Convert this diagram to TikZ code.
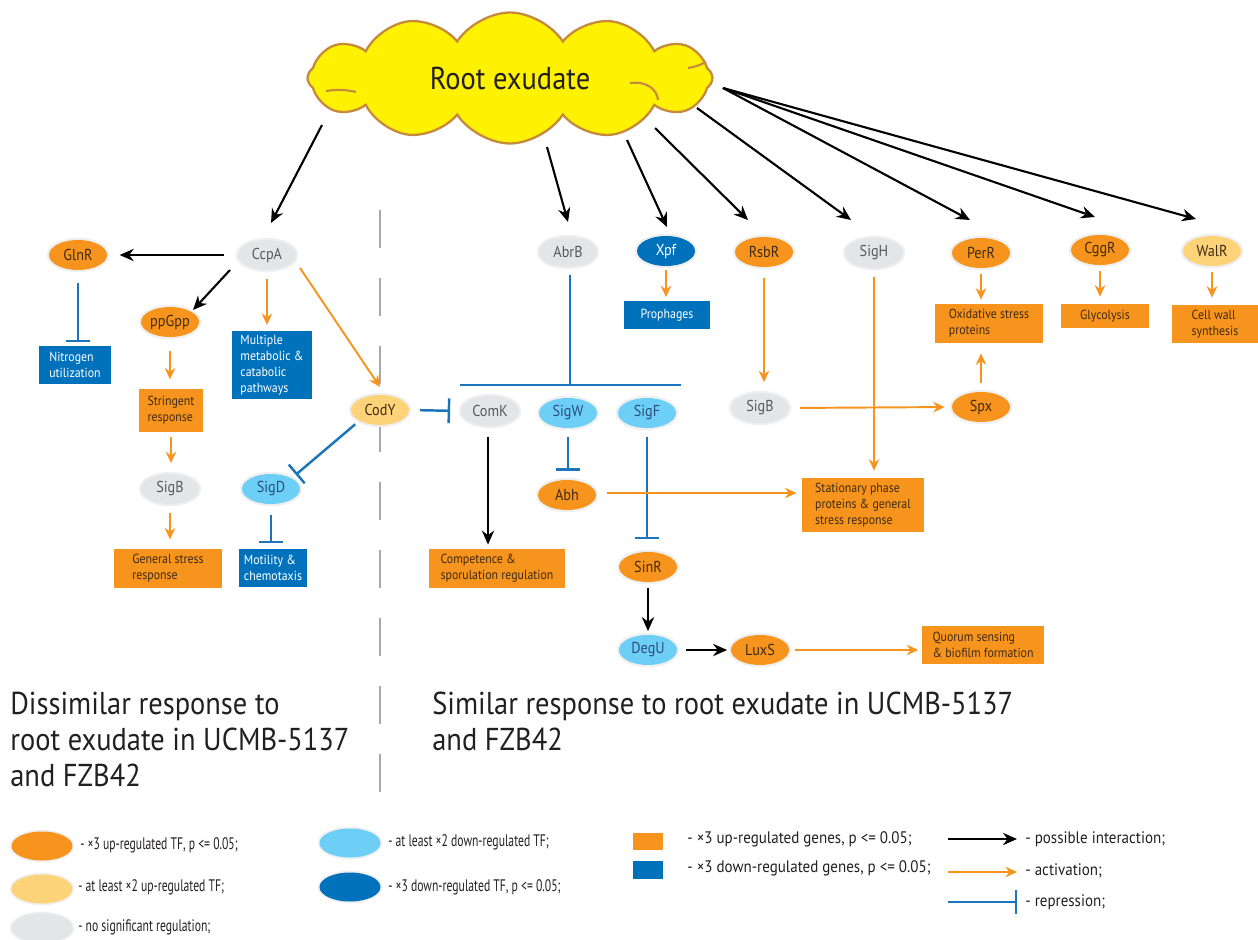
\documentclass[tikz,border=0pt]{standalone}
\usepackage{fontspec}
\setmainfont{PT Sans}[FakeStretch=0.9]
\newfontfamily\legcond{PT Sans}[FakeStretch=0.7]
\usetikzlibrary{shapes.geometric,shapes.symbols,arrows.meta,calc}

\definecolor{ora}{HTML}{F7941D}
\definecolor{ylw}{HTML}{FDD37A}
\definecolor{gry}{HTML}{E4E5E7}
\definecolor{halo}{HTML}{EFEFF0}
\definecolor{lblue}{HTML}{6DCFF6}
\definecolor{dblue}{HTML}{0072BC}
\definecolor{rblue}{HTML}{1C75BC}
\definecolor{cloudfill}{HTML}{FFF200}
\definecolor{cloudline}{HTML}{C68A3E}
\definecolor{tbrown}{HTML}{3F2A14}
\definecolor{tgrey}{HTML}{58595B}
\definecolor{tnavy}{HTML}{2B4C7E}
\definecolor{dashgrey}{HTML}{A7A9AC}
\definecolor{ltext}{HTML}{231F20}

\tikzset{
  tf/.style={ellipse, minimum width=1.16cm, minimum height=0.6cm, inner sep=0pt,
    font=\fontsize{9}{10}\selectfont, preaction={draw=halo, line width=2.5pt}},
  tfup/.style={tf, fill=ora, text=tbrown},
  tfupw/.style={tf, fill=ylw, text=tbrown},
  tfns/.style={tf, fill=gry, text=tgrey},
  tfdnw/.style={tf, fill=lblue, text=tnavy},
  tfdn/.style={tf, fill=dblue, text=white},
  gbox/.style={rectangle, inner sep=0pt, align=left, font=\fontsize{7.5}{9}\selectfont},
  upbox/.style={gbox, fill=ora, text=tbrown},
  dnbox/.style={gbox, fill=dblue, text=white},
  poss/.style={draw=black, line width=1.2pt, -{Stealth[length=8pt,width=7pt]}},
  act/.style={draw=ora, line width=1.1pt, -{Stealth[length=6.5pt,width=6pt]}},
  rep/.style={draw=rblue, line width=1.4pt, -{Bar[width=14pt,line width=1.4pt]}},
  repline/.style={draw=rblue, line width=1.4pt},
  bigtxt/.style={inner sep=0pt, align=left, text=ltext, font=\fontsize{18}{20.5}\selectfont},
  legtxt/.style={inner sep=0pt, anchor=west, text=ltext, font=\legcond\fontsize{9.5}{11}\selectfont},
  legtxtb/.style={inner sep=0pt, anchor=west, text=ltext, font=\fontsize{9.5}{11}\selectfont},
  legell/.style={ellipse, minimum width=1.22cm, minimum height=0.58cm, inner sep=0pt, preaction={draw=halo, line width=2pt}},
}

\begin{document}
\begin{tikzpicture}[x=0.02cm,y=-0.02cm]
\useasboundingbox (0,0) rectangle (1258,940);

% divider
\draw[dashgrey, line width=1pt, dash pattern=on 0.76cm off 0.6cm] (380,210) -- (380,793);

% cloud
\node[cloud, cloud puffs=12, cloud puff arc=115, aspect=3.1, cloud ignores aspect,
  minimum width=8.1cm, minimum height=2.62cm, fill=cloudfill, draw=cloudline,
  line width=1.3pt, inner sep=0pt, text=ltext, font=\fontsize{18}{20}\selectfont] (root) at (510,78) {Root exudate};
\draw[cloudline, line width=1.2pt] (326,91) .. controls (338,89) and (348,90) .. (356,92);
\draw[cloudline, line width=1.2pt] (630,83) .. controls (648,81) and (657,90) .. (658,100);
\draw[cloudline, line width=1.2pt] (688,68) .. controls (695,67) and (700,65) .. (706,62);

% cloud anchor points
\coordinate (c1) at (322,125);
\coordinate (c2) at (547,147);
\coordinate (c3) at (627,140);
\coordinate (c4) at (655,128);
\coordinate (c5) at (697,108);
\coordinate (c6) at (723,88);
\coordinate (e1) at (271,223);
\coordinate (e2) at (568,222);
\coordinate (e3) at (667,227);
\coordinate (e4) at (748,220);
\coordinate (e5) at (851,220);
\coordinate (e6) at (970,220);
\coordinate (e7) at (1095,217);
\coordinate (e8) at (1196,219);

% ---------- left side nodes
\node[tfup] (GlnR) at (78,255) {GlnR};
\node[tfns] (CcpA) at (267,255) {CcpA};
\node[tfup] (ppGpp) at (170,322) {ppGpp};
\node[tfns] (SigBl) at (170,489) {SigB};
\node[tfupw] (CodY) at (380,410) {CodY};
\node[tfdnw] (SigD) at (271,489) {SigD};

\node[dnbox, minimum width=1.44cm, minimum height=0.76cm] (Nitro) at (75,365) {Nitrogen\\utilization};
\node[dnbox, minimum width=1.6cm, minimum height=1.38cm] (Multi) at (272,365) {Multiple\\metabolic \&\\catabolic\\pathways};
\node[upbox, minimum width=1.28cm, minimum height=0.86cm] (String) at (171,410) {Stringent\\response};
\node[upbox, minimum width=2.18cm, minimum height=0.78cm] (General) at (168,568) {General stress\\response\hspace*{1.2em}};
\node[dnbox, minimum width=1.36cm, minimum height=0.76cm] (Motil) at (273,568) {Motility \&\\chemotaxis};

% ---------- middle nodes
\node[tfns] (AbrB) at (568,252) {AbrB};
\node[tfdn] (Xpf) at (666,251) {Xpf};
\node[dnbox, align=center, minimum width=1.74cm, minimum height=0.56cm] (Proph) at (667,315) {Prophages};
\node[tfns] (ComK) at (490,411) {ComK};
\node[tfdnw] (SigW) at (568,413) {SigW};
\node[tfdnw] (SigF) at (647,413) {SigF};
\node[tfup] (Abh) at (567,495) {Abh};
\node[upbox, minimum width=2.72cm, minimum height=0.78cm] (Compet) at (497,568) {Competence \&\\sporulation regulation};
\node[tfup] (SinR) at (648,567) {SinR};
\node[tfdnw] (DegU) at (648,650) {DegU};
\node[tfup] (LuxS) at (760,650) {LuxS};
\node[upbox, minimum width=2.44cm, minimum height=0.76cm] (Quorum) at (983,645) {Quorum sensing\\\& biofilm formation};

% ---------- right nodes
\node[tfup] (RsbR) at (764,252) {RsbR};
\node[tfns] (SigH) at (874,253) {SigH};
\node[tfup] (PerR) at (981,253) {PerR};
\node[tfup] (CggR) at (1100,250) {CggR};
\node[tfupw] (WalR) at (1212,251) {WalR};
\node[upbox, minimum width=2.16cm, minimum height=0.78cm] (Oxid) at (989,323) {Oxidative stress\\proteins};
\node[upbox, align=center, minimum width=1.76cm, minimum height=0.48cm] (Glyco) at (1105,316) {Glycolysis};
\node[upbox, minimum width=1.74cm, minimum height=0.76cm] (CellW) at (1215,324) {Cell wall\\synthesis};
\node[tfns] (SigBr) at (760,408) {SigB};
\node[tfup] (Spx) at (981,407) {Spx};
\node[upbox, minimum width=2.44cm, minimum height=1.08cm] (Stat) at (863,505) {Stationary phase\\proteins \& general\\stress response};

% ---------- cloud arrows
\draw[poss] (c1) -- (e1);
\draw[poss] (c2) -- (e2);
\draw[poss] (c3) -- (e3);
\draw[poss] (c4) -- (e4);
\draw[poss] (c5) -- (e5);
\draw[poss] (c6) -- (e6);
\draw[poss] (c6) -- (e7);
\draw[poss] (c6) -- (e8);

% ---------- left connectors
\draw[poss, shorten <=8pt, shorten >=7pt] (CcpA.west) -- (GlnR.east);
\draw[poss] ($(CcpA)+(-37,15)$) -- ($(ppGpp)+(23,-12)$);
\draw[act, shorten <=5pt, shorten >=3pt] (CcpA.south) -- (CcpA.south |- Multi.north);
\draw[act] ($(CcpA)+(33,13)$) -- ($(CodY)+(0,-23)$);
\draw[rep, shorten <=7pt, shorten >=2pt] (GlnR.south) -- (GlnR.south |- Nitro.north);
\draw[act, shorten <=8pt, shorten >=5pt] (ppGpp.south) -- (ppGpp.south |- String.north);
\draw[act, shorten <=3pt, shorten >=6pt] (String.south) -- (String.south |- SigBl.north);
\draw[act, shorten <=5pt, shorten >=5pt] (SigBl.south) -- (SigBl.south |- General.north);
\draw[rep, shorten <=3pt, shorten >=3pt] (CodY.south west) -- (SigD.north east);
\draw[rep, shorten <=6pt, shorten >=3pt] (SigD.south) -- (SigD.south |- Motil.north);
\draw[rep, shorten <=6pt, shorten >=6pt] (CodY.east) -- (ComK.west);

% ---------- middle connectors
\coordinate (barL) at (460,385);
\coordinate (barR) at (681,385);
\draw[repline] ($(AbrB.south)+(2,8)$) -- ($(AbrB.south |- barR)+(2,0)$);
\draw[repline] (barL) -- (barR);
\draw[act, shorten <=2pt, shorten >=2pt] (Xpf.south) -- (Xpf.south |- Proph.north);
\draw[poss, shorten <=6pt, shorten >=2pt] ($(ComK.south)+(-2,0)$) -- ($(ComK.south |- Compet.north)+(-2,0)$);
\draw[rep, shorten <=5pt, shorten >=5pt] (SigW.south) -- (SigW.south |- Abh.north);
\draw[rep, shorten <=5pt, shorten >=7pt] (SigF.south) -- (SigF.south |- SinR.north);
\draw[act, shorten <=6pt, shorten >=3pt] ($(Abh.east)+(0,-2)$) -- ($(Abh.east -| Stat.west)+(0,-2)$);
\draw[poss, shorten <=3pt, shorten >=2pt] (SinR.south) -- (DegU.north);
\draw[poss, shorten <=5pt, shorten >=2pt] (DegU.east) -- (LuxS.west);
\draw[act, shorten <=3pt, shorten >=2pt] (LuxS.east) -- (LuxS.east -| Quorum.west);

% ---------- right connectors
\draw[act, shorten <=6pt, shorten >=6pt] (RsbR.south) -- (RsbR.south |- SigBr.north);
\draw[act, shorten <=6pt, shorten >=4pt] (SigBr.east) -- (Spx.west);
\draw[act, shorten <=5pt, shorten >=6pt] (Spx.north) -- (Spx.north |- Oxid.south);
\draw[act, shorten <=5pt, shorten >=4pt] (SigH.south) -- (SigH.south |- Stat.north);
\draw[act, shorten <=3pt, shorten >=2pt] (PerR.south) -- (PerR.south |- Oxid.north);
\draw[act, shorten <=3pt, shorten >=4pt] (CggR.south) -- (CggR.south |- Glyco.north);
\draw[act, shorten <=3pt, shorten >=4pt] (WalR.south) -- (WalR.south |- CellW.north);

% ---------- region texts
\node[bigtxt, anchor=north west] (dissim) at (10,692) {Dissimilar response to\\root exudate in UCMB-5137\\and FZB42};
\node[bigtxt, anchor=north west] (simil) at (432,692) {Similar response to root exudate in UCMB-5137\\and FZB42};

% ---------- legend
\node[legell, fill=ora] (L1) at (42,846) {};
\node[legell, fill=ylw] (L2) at (42,889) {};
\node[legell, fill=gry] (L3) at (42,928) {};
\node[legtxt] (L1t) at (80,845) {- ×3 up-regulated TF, p <= 0.05;};
\node[legtxt] (L2t) at (78,887) {- at least ×2 up-regulated TF;};
\node[legtxt] (L3t) at (78,927) {- no significant regulation;};
\node[legell, fill=lblue] (L4) at (350,843) {};
\node[legell, fill=dblue] (L5) at (350,887) {};
\node[legtxt] (L4t) at (388,842) {- at least ×2 down-regulated TF;};
\node[legtxt] (L5t) at (388,887) {- ×3 down-regulated TF, p <= 0.05;};
\node[rectangle, fill=ora, minimum width=0.6cm, minimum height=0.34cm, inner sep=0pt] (L6) at (648,841) {};
\node[rectangle, fill=dblue, minimum width=0.6cm, minimum height=0.36cm, inner sep=0pt] (L7) at (648,870) {};
\node[legtxtb] (L6t) at (687,839) {- ×3 up-regulated genes, p <= 0.05;};
\node[legtxtb] (L7t) at (687,868) {- ×3 down-regulated genes, p <= 0.05;};
\coordinate (a1) at (948,839); \coordinate (a1e) at (1017,839);
\coordinate (a2) at (948,872); \coordinate (a2e) at (1017,872);
\coordinate (a3) at (948,902); \coordinate (a3e) at (1017,902);
\draw[poss] (a1) -- (a1e);
\draw[act] (a2) -- (a2e);
\draw[rep] (a3) -- (a3e);
\node[legtxtb] (L8t) at (1025,839) {- possible interaction;};
\node[legtxtb] (L9t) at (1025,871) {- activation;};
\node[legtxtb] (L10t) at (1025,902) {- repression;};
\end{tikzpicture}
\end{document}
